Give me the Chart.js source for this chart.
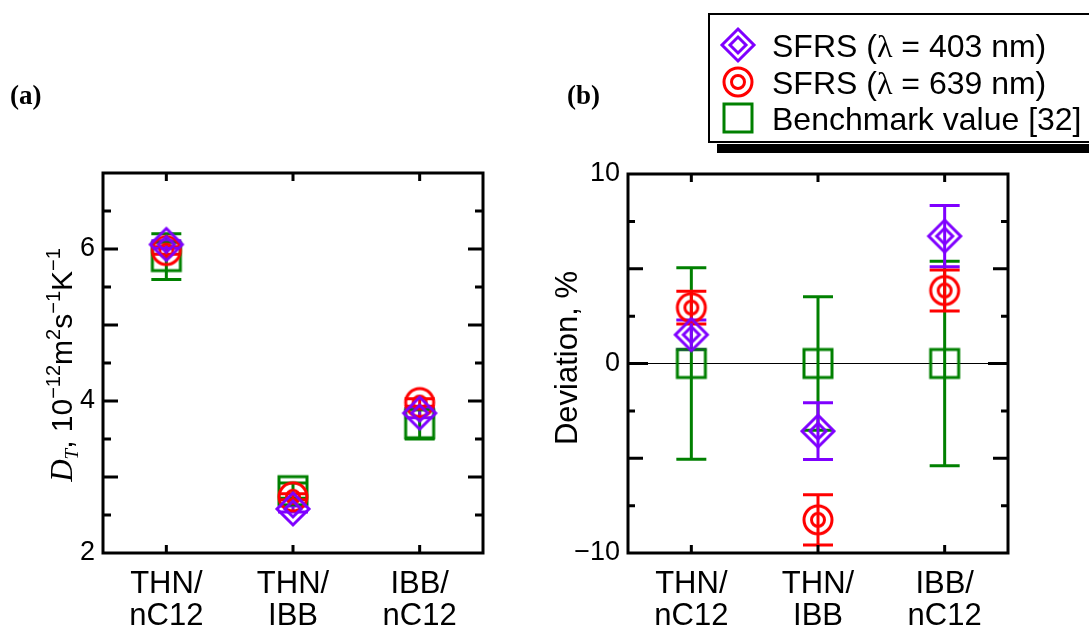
<!DOCTYPE html>
<html>
<head>
<meta charset="utf-8">
<script src="https://cdn.jsdelivr.net/npm/chart.js@4.4.1/dist/chart.umd.min.js"></script>
<style>
  html, body { margin: 0; padding: 0; background: #fff; }
  #wrap { position: relative; width: 1089px; height: 631px; overflow: hidden; background: #fff; }
  #chartA { position: absolute; left: 0; top: 0; width: 540px; height: 631px; }
  #chartB { position: absolute; left: 540px; top: 0; width: 549px; height: 631px; }
</style>
</head>
<body>
<div id="wrap">
  <canvas id="chartA" width="540" height="631"></canvas>
  <canvas id="chartB" width="549" height="631"></canvas>
</div>
<script>
// mixtures, placed at x = 1, 2, 3
const categories = [['THN/', 'nC12'], ['THN/', 'IBB'], ['IBB/', 'nC12']];
const catPos = [1, 2, 3];

const seriesNames = ['SFRS (\u03bb = 403 nm)', 'SFRS (\u03bb = 639 nm)', 'Benchmark value [32]'];
const seriesColors = ['#7f00ff', '#ff0000', '#008000'];

// (a) thermodiffusion coefficient, 1e-12 m^2 s^-1 K^-1
const dtSfrs403 = [6.06, 2.58, 3.84];
const dtSfrs403Err = [0.05, 0.04, 0.06];
const dtSfrs639 = [5.98, 2.74, 3.98];
const dtSfrs639Err = [0.05, 0.04, 0.05];
const dtBenchmark = [5.90, 2.82, 3.70];
const dtBenchmarkErr = [0.30, 0.10, 0.20];

// (b) deviation from benchmark, %
const devSfrs403 = [1.52, -3.57, 6.72];
const devSfrs403Err = [0.78, 1.50, 1.62];
const devSfrs639 = [2.95, -8.25, 3.85];
const devSfrs639Err = [0.86, 1.33, 1.08];
const devBenchmark = [0, 0, 0];
const devBenchmarkErr = [5.05, 3.52, 5.40];

// axis ticks
const dtTickLabels = [2, 4, 6];
const dtMajorTicks = [3, 4, 5, 6];
const dtMinorTicks = [2.5, 3.5, 4.5, 5.5, 6.5];
const devTickLabels = [-10, 0, 10];
const devZeroTicks = [0];
const devMajorTicks = [-5, 5];
const devMinorTicks = [-7.5, -2.5, 2.5, 7.5];

const SANS = "'Liberation Sans', Arial, sans-serif";
const SERIF = "'Liberation Serif', 'Times New Roman', serif";
Chart.defaults.font.family = SANS;
Chart.defaults.color = '#000';

function makeMarker(kind, color) {
  const c = document.createElement('canvas');
  c.width = 44; c.height = 44;
  const g = c.getContext('2d');
  g.strokeStyle = color;
  g.lineWidth = 3;
  const m = 22;
  if (kind === 'diamond') {
    [16, 8].forEach(h => {
      g.beginPath();
      g.moveTo(m, m - h); g.lineTo(m + h, m); g.lineTo(m, m + h); g.lineTo(m - h, m);
      g.closePath(); g.stroke();
    });
  } else if (kind === 'circle') {
    [14, 6.5].forEach(r => {
      g.beginPath(); g.arc(m, m, r, 0, Math.PI * 2); g.stroke();
    });
  } else {
    g.strokeRect(m - 14, m - 14, 28, 28);
  }
  return c;
}
const markers = [
  makeMarker('diamond', seriesColors[0]),
  makeMarker('circle', seriesColors[1]),
  makeMarker('square', seriesColors[2])
];

function points(vals) {
  return catPos.map((x, i) => ({ x: x, y: vals[i] }));
}

function dataset(idx, vals, errs) {
  return {
    label: seriesNames[idx],
    data: points(vals),
    errors: errs,
    pointStyle: markers[idx],
    pointRadius: 16,
    borderColor: seriesColors[idx],
    backgroundColor: 'rgba(0,0,0,0)'
  };
}

// vertical error bars with caps, drawn under the markers
const errorBars = {
  id: 'errorBars',
  beforeDatasetsDraw(chart) {
    const { ctx, scales: { x, y } } = chart;
    ctx.save();
    ctx.lineWidth = 3;
    for (let d = chart.data.datasets.length - 1; d >= 0; d--) {
      const ds = chart.data.datasets[d];
      ctx.strokeStyle = ds.borderColor;
      ds.data.forEach((p, i) => {
        const e = ds.errors[i];
        const px = x.getPixelForValue(p.x);
        const top = y.getPixelForValue(p.y + e);
        const bot = y.getPixelForValue(p.y - e);
        ctx.beginPath();
        ctx.moveTo(px, top); ctx.lineTo(px, bot);
        ctx.moveTo(px - 15, top); ctx.lineTo(px + 15, top);
        ctx.moveTo(px - 15, bot); ctx.lineTo(px + 15, bot);
        ctx.stroke();
      });
    }
    ctx.restore();
  }
};

function drawRichVertical(ctx, parts, cx, cy) {
  ctx.save();
  ctx.translate(cx, cy);
  ctx.rotate(-Math.PI / 2);
  let total = 0;
  parts.forEach(p => { ctx.font = p.font; total += ctx.measureText(p.t).width; });
  let pos = -total / 2;
  ctx.fillStyle = '#000';
  ctx.textBaseline = 'alphabetic';
  ctx.textAlign = 'left';
  parts.forEach(p => {
    ctx.font = p.font;
    ctx.fillText(p.t, pos, p.dy || 0);
    pos += ctx.measureText(p.t).width;
  });
  ctx.restore();
}

// box frame, inward ticks, panel letter and axis title
const frameTicks = {
  id: 'frameTicks',
  afterDraw(chart, args, opts) {
    const { ctx, chartArea: a, scales: { x, y } } = chart;
    ctx.save();
    ctx.strokeStyle = '#000';
    ctx.lineWidth = 3;
    ctx.beginPath();
    opts.tickSets.forEach(set => {
      set.values.forEach(v => {
        const py = y.getPixelForValue(v);
        ctx.moveTo(a.left, py); ctx.lineTo(a.left + set.len, py);
        ctx.moveTo(a.right, py); ctx.lineTo(a.right - set.len, py);
      });
    });
    catPos.forEach(v => {
      const px = x.getPixelForValue(v);
      ctx.moveTo(px, a.top); ctx.lineTo(px, a.top + 8);
      ctx.moveTo(px, a.bottom); ctx.lineTo(px, a.bottom - 8);
    });
    ctx.stroke();
    ctx.strokeRect(a.left, a.top, a.right - a.left, a.bottom - a.top);

    ctx.fillStyle = '#000';
    ctx.font = 'bold 27px ' + SERIF;
    ctx.textAlign = 'left';
    ctx.textBaseline = 'alphabetic';
    ctx.fillText(opts.panel, opts.panelX, 104);

    drawRichVertical(ctx, opts.title, opts.titleX, opts.titleY);
    ctx.restore();
  }
};

// legend box with a heavy rule under it; the lambda is set in a serif face
const legendBox = {
  id: 'legendBox',
  afterDraw(chart) {
    const { ctx } = chart;
    ctx.save();
    ctx.fillStyle = '#000';
    ctx.fillRect(177, 144, 400, 9);
    ctx.fillStyle = '#fff';
    ctx.fillRect(168, 13, 400, 129);
    ctx.strokeStyle = '#000';
    ctx.lineWidth = 2;
    ctx.strokeRect(169, 14, 400, 128);
    const rows = [45, 82, 118];
    ctx.textAlign = 'left';
    ctx.textBaseline = 'alphabetic';
    ctx.fillStyle = '#000';
    chart.data.datasets.forEach((ds, i) => {
      ctx.drawImage(markers[i], 198 - 22, rows[i] - 22);
      let px = 232;
      ds.label.split(/(\u03bb)/).forEach(seg => {
        ctx.font = seg === '\u03bb' ? '32px ' + SERIF : '32px ' + SANS;
        ctx.fillText(seg, px, rows[i] + 11.5);
        px += ctx.measureText(seg).width;
      });
    });
    ctx.restore();
  }
};

function fmt(v) {
  return v < 0 ? '\u2212' + Math.abs(v) : String(v);
}

function makeOptions(cfg) {
  return {
    responsive: false,
    animation: false,
    events: [],
    layout: { padding: cfg.padding },
    plugins: {
      legend: { display: false },
      tooltip: { enabled: false },
      frameTicks: cfg.frame
    },
    scales: {
      x: {
        type: 'linear',
        min: 0.5,
        max: 3.5,
        afterBuildTicks: s => { s.ticks = catPos.map(v => ({ value: v })); },
        afterFit: s => { s.height = 78; },
        grid: { display: false, drawTicks: false },
        border: { display: false },
        ticks: {
          autoSkip: false,
          maxRotation: 0,
          padding: 16,
          font: { size: 31, lineHeight: 1.02 },
          callback: v => categories[catPos.indexOf(v)]
        }
      },
      y: {
        type: 'linear',
        min: cfg.yMin,
        max: cfg.yMax,
        afterBuildTicks: s => { s.ticks = cfg.tickLabels.map(v => ({ value: v })); },
        afterFit: s => { s.width = cfg.yWidth; },
        grid: cfg.grid,
        border: { display: false },
        ticks: {
          padding: 8,
          font: { size: 27 },
          callback: v => fmt(v)
        }
      }
    }
  };
}

new Chart(document.getElementById('chartA'), {
  type: 'scatter',
  data: {
    datasets: [
      dataset(0, dtSfrs403, dtSfrs403Err),
      dataset(1, dtSfrs639, dtSfrs639Err),
      dataset(2, dtBenchmark, dtBenchmarkErr)
    ]
  },
  options: makeOptions({
    padding: { left: 0, right: 57, top: 173, bottom: 0 },
    yMin: 2, yMax: 7, yWidth: 103,
    tickLabels: dtTickLabels,
    grid: { display: false, drawTicks: false },
    frame: {
      tickSets: [{ values: dtMajorTicks, len: 15 }, { values: dtMinorTicks, len: 8 }],
      panel: '(a)', panelX: 10,
      titleX: 72, titleY: 365,
      title: [
        { t: 'D', font: 'italic 31px ' + SERIF },
        { t: 'T', font: 'italic 19px ' + SERIF, dy: 6 },
        { t: ', 10', font: '30px ' + SANS },
        { t: '\u221212', font: '20px ' + SANS, dy: -12 },
        { t: 'm', font: '30px ' + SANS },
        { t: '2', font: '20px ' + SANS, dy: -12 },
        { t: 's', font: '30px ' + SANS },
        { t: '\u22121', font: '20px ' + SANS, dy: -12 },
        { t: 'K', font: '30px ' + SANS },
        { t: '\u22121', font: '20px ' + SANS, dy: -12 }
      ]
    }
  }),
  plugins: [errorBars, frameTicks]
});

new Chart(document.getElementById('chartB'), {
  type: 'scatter',
  data: {
    datasets: [
      dataset(0, devSfrs403, devSfrs403Err),
      dataset(1, devSfrs639, devSfrs639Err),
      dataset(2, devBenchmark, devBenchmarkErr)
    ]
  },
  options: makeOptions({
    padding: { left: 0, right: 81, top: 174, bottom: 0 },
    yMin: -10, yMax: 10, yWidth: 88,
    tickLabels: devTickLabels,
    grid: {
      display: true,
      drawTicks: false,
      lineWidth: 1,
      color: c => (c.tick && c.tick.value === 0 ? '#000' : 'rgba(0,0,0,0)')
    },
    frame: {
      tickSets: [{ values: devZeroTicks, len: 20 }, { values: devMajorTicks, len: 15 }, { values: devMinorTicks, len: 7 }],
      panel: '(b)', panelX: 27,
      titleX: 37, titleY: 358,
      title: [{ t: 'Deviation, %', font: '31px ' + SANS }]
    }
  }),
  plugins: [errorBars, frameTicks, legendBox]
});
</script>
</body>
</html>
